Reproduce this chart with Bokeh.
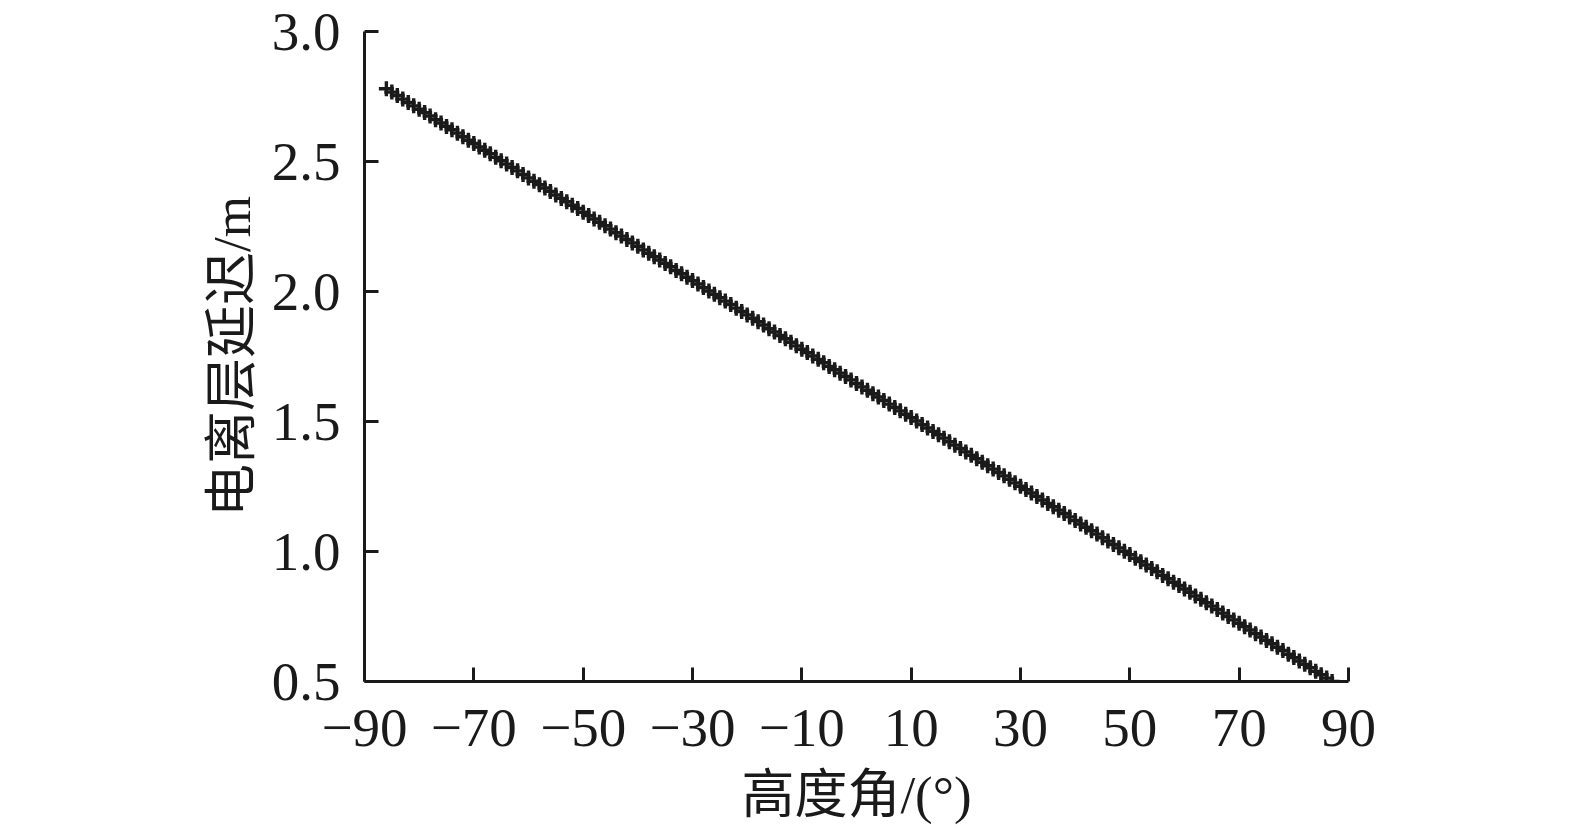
from bokeh.plotting import figure
from bokeh.models import Range1d, FixedTicker
from bokeh.embed import file_html
from bokeh.resources import INLINE

# elevation angle (deg)
elev = [-86, -85, -84, -83, -82, -81, -80, -79, -78, -77,
        -76, -75, -74, -73, -72, -71, -70, -69, -68, -67,
        -66, -65, -64, -63, -62, -61, -60, -59, -58, -57,
        -56, -55, -54, -53, -52, -51, -50, -49, -48, -47,
        -46, -45, -44, -43, -42, -41, -40, -39, -38, -37,
        -36, -35, -34, -33, -32, -31, -30, -29, -28, -27,
        -26, -25, -24, -23, -22, -21, -20, -19, -18, -17,
        -16, -15, -14, -13, -12, -11, -10, -9, -8, -7,
        -6, -5, -4, -3, -2, -1, 0, 1, 2, 3,
        4, 5, 6, 7, 8, 9, 10, 11, 12, 13,
        14, 15, 16, 17, 18, 19, 20, 21, 22, 23,
        24, 25, 26, 27, 28, 29, 30, 31, 32, 33,
        34, 35, 36, 37, 38, 39, 40, 41, 42, 43,
        44, 45, 46, 47, 48, 49, 50, 51, 52, 53,
        54, 55, 56, 57, 58, 59, 60, 61, 62, 63,
        64, 65, 66, 67, 68, 69, 70, 71, 72, 73,
        74, 75, 76, 77, 78, 79, 80, 81, 82, 83,
        84, 85, 86, 87]

# ionospheric delay (m)
delay = [2.780, 2.767, 2.754, 2.740, 2.727, 2.714, 2.701, 2.688, 2.675, 2.661,
         2.648, 2.635, 2.622, 2.609, 2.595, 2.582, 2.569, 2.556, 2.543, 2.530,
         2.516, 2.503, 2.490, 2.477, 2.464, 2.450, 2.437, 2.424, 2.411, 2.398,
         2.385, 2.371, 2.358, 2.345, 2.332, 2.319, 2.305, 2.292, 2.279, 2.266,
         2.253, 2.240, 2.226, 2.213, 2.200, 2.187, 2.174, 2.160, 2.147, 2.134,
         2.121, 2.108, 2.095, 2.081, 2.068, 2.055, 2.042, 2.029, 2.015, 2.002,
         1.989, 1.976, 1.963, 1.950, 1.936, 1.923, 1.910, 1.897, 1.884, 1.871,
         1.857, 1.844, 1.831, 1.818, 1.805, 1.791, 1.778, 1.765, 1.752, 1.739,
         1.726, 1.712, 1.699, 1.686, 1.673, 1.660, 1.646, 1.633, 1.620, 1.607,
         1.594, 1.581, 1.567, 1.554, 1.541, 1.528, 1.515, 1.502, 1.488, 1.475,
         1.462, 1.449, 1.436, 1.422, 1.409, 1.396, 1.383, 1.370, 1.357, 1.343,
         1.330, 1.317, 1.304, 1.291, 1.278, 1.264, 1.251, 1.238, 1.225, 1.212,
         1.198, 1.185, 1.172, 1.159, 1.146, 1.133, 1.119, 1.106, 1.093, 1.080,
         1.067, 1.053, 1.040, 1.027, 1.014, 1.001, 0.988, 0.974, 0.961, 0.948,
         0.935, 0.922, 0.908, 0.895, 0.882, 0.869, 0.856, 0.843, 0.829, 0.816,
         0.803, 0.790, 0.777, 0.763, 0.750, 0.737, 0.724, 0.711, 0.698, 0.684,
         0.671, 0.658, 0.645, 0.632, 0.619, 0.605, 0.592, 0.579, 0.566, 0.553,
         0.539, 0.526, 0.513, 0.500]

x_ticks = [-90, -70, -50, -30, -10, 10, 30, 50, 70, 90]
x_tick_labels = ["\u221290", "\u221270", "\u221250", "\u221230", "\u221210",
                 "10", "30", "50", "70", "90"]
y_ticks = [0.5, 1.0, 1.5, 2.0, 2.5, 3.0]
y_tick_labels = ["0.5", "1.0", "1.5", "2.0", "2.5", "3.0"]

x_label = "高度角/(°)"
y_label = "电离层延迟/m"

FONT = "Liberation Serif, Noto Sans CJK SC"
INK = "#1a1a1a"

p = figure(width=1559, height=830, output_backend="svg", toolbar_location=None,
           x_range=Range1d(-90, 90), y_range=Range1d(0.5, 3.0),
           min_border_left=364, min_border_right=211,
           min_border_top=31, min_border_bottom=149)
p.outline_line_color = None
p.grid.visible = False
p.background_fill_color = "white"
p.border_fill_color = "white"

p.scatter(elev, delay, marker="cross", size=15, line_width=3.4,
          line_color=INK)

for ax, ticks, labels in ((p.xaxis[0], x_ticks, x_tick_labels),
                          (p.yaxis[0], y_ticks, y_tick_labels)):
    ax.ticker = FixedTicker(ticks=ticks)
    ax.major_label_overrides = {t: l for t, l in zip(ticks, labels)}
    ax.axis_line_width = 3
    ax.axis_line_color = INK
    ax.major_tick_line_color = INK
    ax.major_tick_line_width = 3
    ax.major_tick_in = 14
    ax.major_tick_out = 0
    ax.minor_tick_line_color = None
    ax.major_label_text_font = FONT
    ax.major_label_text_font_size = "55px"
    ax.major_label_text_color = INK
    ax.axis_label_text_font = FONT
    ax.axis_label_text_font_size = "53px"
    ax.axis_label_text_font_style = "normal"
    ax.axis_label_text_color = INK

p.xaxis.axis_label = x_label
p.yaxis.axis_label = y_label
p.xaxis.major_label_standoff = 28
p.xaxis.axis_label_standoff = 17
p.yaxis.major_label_standoff = 24
p.yaxis.axis_label_standoff = 8

open("out.html", "w").write(file_html(p, INLINE))
